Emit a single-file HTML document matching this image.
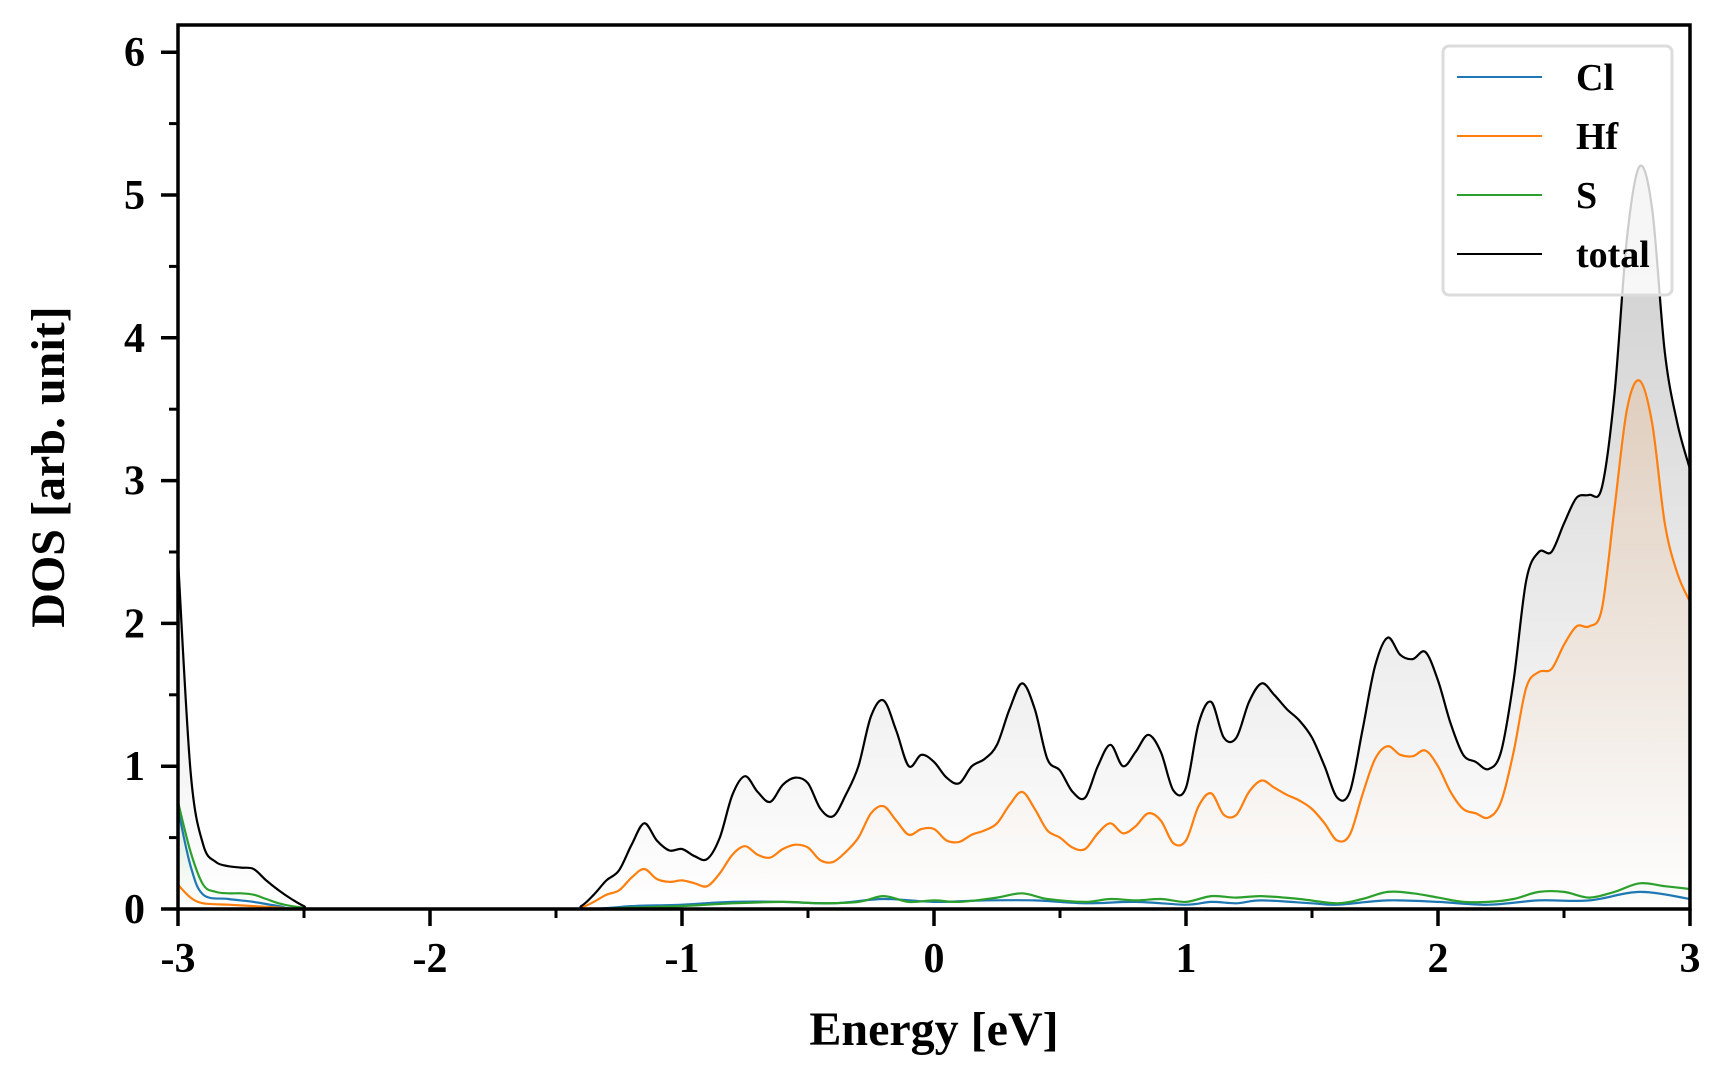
<!DOCTYPE html>
<html><head><meta charset="utf-8"><style>
html,body{margin:0;padding:0;background:#fff;}
svg{display:block;font-family:"Liberation Serif",serif;font-weight:bold;}
</style></head><body>
<svg id="chart" width="1728" height="1080" viewBox="0 0 1728 1080">
<defs>
<linearGradient id="gTot" gradientUnits="userSpaceOnUse" x1="0" y1="168" x2="0" y2="909">
<stop offset="0" stop-color="#808080" stop-opacity="0.4"/><stop offset="1" stop-color="#808080" stop-opacity="0"/></linearGradient>
<linearGradient id="gHf" gradientUnits="userSpaceOnUse" x1="0" y1="380" x2="0" y2="909">
<stop offset="0" stop-color="#ff7f0e" stop-opacity="0.14"/><stop offset="1" stop-color="#ff7f0e" stop-opacity="0"/></linearGradient>
<linearGradient id="gS" gradientUnits="userSpaceOnUse" x1="0" y1="800" x2="0" y2="909">
<stop offset="0" stop-color="#2ca02c" stop-opacity="0.15"/><stop offset="1" stop-color="#2ca02c" stop-opacity="0"/></linearGradient>
<clipPath id="clip"><rect x="178" y="25" width="1512" height="884"/></clipPath>
</defs>
<g id="fills" clip-path="url(#clip)"></g>
<g id="lines" clip-path="url(#clip)"></g>
<g id="axes"></g>
<g>
<rect x="1443" y="46" width="229" height="249" rx="6" fill="#fff" fill-opacity="0.8" stroke="#dcdcdc" stroke-width="3"/>
<line x1="1457" y1="77" x2="1542" y2="77" stroke="#1f77b4" stroke-width="2"/>
<text x="1576" y="90" font-size="38">Cl</text>
<line x1="1457" y1="136" x2="1542" y2="136" stroke="#ff7f0e" stroke-width="2"/>
<text x="1576" y="149" font-size="38">Hf</text>
<line x1="1457" y1="195" x2="1542" y2="195" stroke="#2ca02c" stroke-width="2"/>
<text x="1576" y="208" font-size="38">S</text>
<line x1="1457" y1="254" x2="1542" y2="254" stroke="#000" stroke-width="2"/>
<text x="1576" y="267" font-size="38">total</text>
</g>
<text x="934" y="1045" font-size="48" text-anchor="middle">Energy [eV]</text>
<text transform="translate(64,467) rotate(-90)" font-size="48" text-anchor="middle">DOS [arb. unit]</text>
</svg>
<script>
const totalE=[-3,-2.95,-2.9,-2.85,-2.8,-2.75,-2.7,-2.65,-2.6,-2.55,-2.5,-2.45,-2,-1.45,-1.4,-1.35,-1.3,-1.25,-1.2,-1.15,-1.1,-1.05,-1,-0.95,-0.9,-0.85,-0.8,-0.75,-0.7,-0.65,-0.6,-0.55,-0.5,-0.45,-0.4,-0.35,-0.3,-0.25,-0.2,-0.15,-0.1,-0.05,0,0.05,0.1,0.15,0.2,0.25,0.3,0.35,0.4,0.45,0.5,0.55,0.6,0.65,0.7,0.75,0.8,0.85,0.9,0.95,1,1.05,1.1,1.15,1.2,1.25,1.3,1.35,1.4,1.45,1.5,1.55,1.6,1.65,1.7,1.75,1.8,1.85,1.9,1.95,2,2.05,2.1,2.15,2.2,2.25,2.3,2.35,2.4,2.45,2.5,2.55,2.6,2.65,2.7,2.75,2.8,2.85,2.9,2.95,3];
const totalV=[2.45,0.96,0.45,0.33,0.3,0.29,0.28,0.2,0.13,0.07,0.02,0,0,0,0.02,0.1,0.2,0.27,0.45,0.6,0.48,0.41,0.42,0.37,0.35,0.5,0.8,0.93,0.82,0.75,0.87,0.92,0.88,0.7,0.65,0.8,1.0,1.35,1.46,1.25,1.0,1.08,1.03,0.92,0.88,1.0,1.05,1.15,1.4,1.58,1.4,1.05,0.97,0.82,0.78,1.0,1.15,1.0,1.1,1.22,1.1,0.83,0.85,1.3,1.45,1.2,1.2,1.45,1.58,1.5,1.4,1.32,1.2,1.0,0.78,0.82,1.25,1.7,1.9,1.78,1.75,1.8,1.6,1.3,1.08,1.03,0.98,1.1,1.6,2.3,2.5,2.5,2.7,2.88,2.9,2.95,3.6,4.7,5.2,4.9,3.9,3.4,3.08];
const hfE=[-3,-2.95,-2.9,-2.8,-2.7,-2.6,-2.5,-2,-1.45,-1.4,-1.35,-1.3,-1.25,-1.2,-1.15,-1.1,-1.05,-1,-0.95,-0.9,-0.85,-0.8,-0.75,-0.7,-0.65,-0.6,-0.55,-0.5,-0.45,-0.4,-0.35,-0.3,-0.25,-0.2,-0.15,-0.1,-0.05,0,0.05,0.1,0.15,0.2,0.25,0.3,0.35,0.4,0.45,0.5,0.55,0.6,0.65,0.7,0.75,0.8,0.85,0.9,0.95,1,1.05,1.1,1.15,1.2,1.25,1.3,1.35,1.4,1.45,1.5,1.55,1.6,1.65,1.7,1.75,1.8,1.85,1.9,1.95,2,2.05,2.1,2.15,2.2,2.25,2.3,2.35,2.4,2.45,2.5,2.55,2.6,2.65,2.7,2.75,2.8,2.85,2.9,2.95,3];
const hfV=[0.17,0.08,0.04,0.03,0.02,0.01,0,0,0,0.01,0.05,0.1,0.13,0.22,0.28,0.21,0.19,0.2,0.18,0.16,0.25,0.38,0.44,0.38,0.36,0.42,0.45,0.43,0.34,0.33,0.4,0.5,0.67,0.72,0.62,0.52,0.56,0.56,0.48,0.47,0.52,0.55,0.6,0.73,0.82,0.7,0.55,0.5,0.43,0.42,0.53,0.6,0.53,0.58,0.67,0.62,0.46,0.48,0.72,0.81,0.66,0.66,0.82,0.9,0.85,0.8,0.76,0.7,0.6,0.48,0.52,0.8,1.05,1.14,1.08,1.07,1.11,1.0,0.82,0.7,0.67,0.64,0.75,1.1,1.55,1.66,1.68,1.85,1.98,1.98,2.1,2.8,3.5,3.7,3.4,2.7,2.35,2.15];
const sE=[-3,-2.95,-2.9,-2.85,-2.8,-2.75,-2.7,-2.65,-2.6,-2.55,-2.5,-2.45,-2,-1.4,-1.2,-1,-0.8,-0.6,-0.45,-0.3,-0.2,-0.1,0,0.1,0.25,0.35,0.45,0.6,0.7,0.8,0.9,1,1.1,1.2,1.3,1.45,1.6,1.7,1.8,1.9,2,2.1,2.2,2.3,2.4,2.5,2.6,2.7,2.8,2.9,3];
const sV=[0.75,0.4,0.17,0.12,0.11,0.11,0.1,0.07,0.04,0.02,0.01,0,0,0,0.01,0.02,0.04,0.05,0.04,0.05,0.09,0.05,0.06,0.05,0.08,0.11,0.07,0.05,0.07,0.06,0.07,0.05,0.09,0.08,0.09,0.07,0.04,0.07,0.12,0.11,0.08,0.05,0.05,0.07,0.12,0.12,0.08,0.12,0.18,0.16,0.14];
const clE=[-3,-2.95,-2.9,-2.8,-2.7,-2.6,-2.5,-2,-1.4,-1.2,-1,-0.8,-0.6,-0.4,-0.2,0,0.2,0.4,0.6,0.8,1,1.1,1.2,1.3,1.5,1.6,1.8,2,2.2,2.4,2.6,2.8,3];
const clV=[0.7,0.3,0.1,0.07,0.05,0.02,0,0,0,0.02,0.03,0.05,0.05,0.04,0.07,0.05,0.06,0.06,0.04,0.05,0.03,0.05,0.04,0.06,0.04,0.03,0.06,0.05,0.03,0.06,0.06,0.12,0.07];
const xTicks=[-3,-2,-1,0,1,2,3];
const yTicks=[0,1,2,3,4,5,6];

const X0=178,X1=1690,Y0=909,YU=142.8;
const xs=e=>X0+(e+3)/6*(X1-X0);
const ys=v=>Y0-v*YU;
const NS='http://www.w3.org/2000/svg';
function mk(tag,attrs,parent){const el=document.createElementNS(NS,tag);for(const k in attrs)el.setAttribute(k,attrs[k]);parent.appendChild(el);return el;}
function pathD(E,V){
  const p=E.map((e,i)=>[xs(e),ys(V[i])]);
  let d='M'+p[0][0].toFixed(1)+','+p[0][1].toFixed(1);
  for(let i=0;i<p.length-1;i++){
    const a=p[Math.max(0,i-1)],b=p[i],c=p[i+1],n=p[Math.min(p.length-1,i+2)];
    let c1y=b[1]+(c[1]-a[1])/6,c2y=c[1]-(n[1]-b[1])/6;
    c1y=Math.min(c1y,Y0);c2y=Math.min(c2y,Y0);
    d+=' C'+(b[0]+(c[0]-a[0])/6).toFixed(1)+','+c1y.toFixed(1)+' '+(c[0]-(n[0]-b[0])/6).toFixed(1)+','+c2y.toFixed(1)+' '+c[0].toFixed(1)+','+c[1].toFixed(1);
  }
  return d;
}
const fills=document.getElementById('fills'),lines=document.getElementById('lines'),axes=document.getElementById('axes');
const series=[['total',totalE,totalV,'#000','url(#gTot)'],['hf',hfE,hfV,'#ff7f0e','url(#gHf)'],['s',sE,sV,'#2ca02c','url(#gS)'],['cl',clE,clV,'#1f77b4','none']];
series.forEach(s=>{
  const d=pathD(s[1],s[2]);
  if(s[4]!=='none'){
    const f=mk('path',{d:d+' L'+xs(s[1][s[1].length-1])+','+Y0+' L'+xs(s[1][0])+','+Y0+' Z',fill:s[4],stroke:'none'},fills);
    
    
  }
});
[series[3],series[2],series[1],series[0]].forEach(s=>{
  const l=mk('path',{d:pathD(s[1],s[2]),fill:'none',stroke:s[3],'stroke-width':2.2,'stroke-linejoin':'round'},lines);
  
  
});
const frame=mk('rect',{x:X0,y:25,width:X1-X0,height:Y0-25,fill:'none',stroke:'#000','stroke-width':3.5},axes);


xTicks.forEach(t=>{
  const x=xs(t);
  const tk=mk('line',{x1:x,y1:Y0,x2:x,y2:Y0+17,stroke:'#000','stroke-width':3.5},axes);
  
  
  const lb=mk('text',{x:x,y:972,'font-size':42,'text-anchor':'middle'},axes);
  lb.textContent=String(t);
  
  
  if(t<3){const m=mk('line',{x1:xs(t+0.5),y1:Y0,x2:xs(t+0.5),y2:Y0+9,stroke:'#000','stroke-width':3},axes);
  
  }
});
yTicks.forEach(t=>{
  const y=ys(t);
  const tk=mk('line',{x1:X0-17,y1:y,x2:X0,y2:y,stroke:'#000','stroke-width':3.5},axes);
  
  
  const lb=mk('text',{x:145,y:y+14,'font-size':42,'text-anchor':'end'},axes);
  lb.textContent=String(t);
  
  
  if(t<6){const m=mk('line',{x1:X0-9,y1:ys(t+0.5),x2:X0,y2:ys(t+0.5),stroke:'#000','stroke-width':3},axes);
  
  }
});
</script>
</body></html>
